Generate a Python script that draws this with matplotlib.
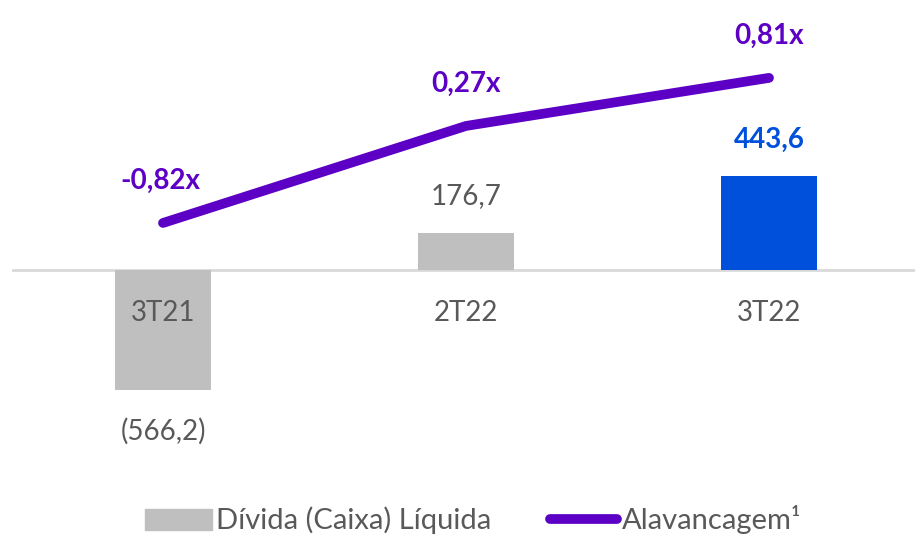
import numpy as np
import matplotlib.pyplot as plt
from matplotlib.patches import Patch
from matplotlib.lines import Line2D

plt.rcParams['font.family'] = ['Lato', 'DejaVu Sans']

periods = ["3T21", "2T22", "3T22"]
divida = [-566.2, 176.7, 443.6]
divida_lbl = ["(566,2)", "176,7", "443,6"]
alav = [-0.82, 0.27, 0.81]
alav_lbl = ["-0,82x", "0,27x", "0,81x"]

GRAY = "#BFBFBF"; BLUE = "#0050DC"; PURPLE = "#5C00C6"; TXT = "#595959"

fig = plt.figure(figsize=(9.15, 5.35), dpi=100)
ax = fig.add_axes([11.5/915, 55/535, 909/915, 480/535])
x = np.arange(len(periods))
cols = [GRAY, GRAY, BLUE]
ax.bar(x, divida, width=0.314, color=cols, zorder=2)
ax.axhline(0, color="#D9D9D9", lw=2, zorder=1)
ax.set_xlim(-0.5, 2.5)
ax.set_ylim(-991, 1274)
ax.axis("off")

for i, (v, s) in enumerate(zip(divida, divida_lbl)):
    if v < 0:
        ax.annotate(s, (i, v), xytext=(0, -30), textcoords="offset points",
                    ha="center", va="center", fontsize=20, color=TXT)
    else:
        bold = i == 2
        ax.annotate(s, (i, v), xytext=(0, 26), textcoords="offset points",
                    ha="center", va="center", fontsize=20,
                    color=BLUE if bold else TXT, fontweight="bold" if bold else "normal")
    ax.annotate(periods[i], (i, 0), xytext=(0, -31), textcoords="offset points",
                ha="center", va="center", fontsize=20, color=TXT)

ax2 = ax.twinx()
ax2.plot(x, alav, color=PURPLE, lw=7, solid_capstyle="round", zorder=3)
ax2.set_ylim(-3.708, 1.685)
ax2.axis("off")
for i, (v, s) in enumerate(zip(alav, alav_lbl)):
    ax2.annotate(s, (i, v), xytext=(-2 if i == 0 else 0, 30), textcoords="offset points",
                 ha="center", va="center", fontsize=20, color=PURPLE, fontweight="bold")

handles = [Patch(color=GRAY), Line2D([0], [0], color=PURPLE, lw=7, solid_capstyle="round")]
fig.legend(handles, ["Dívida (Caixa) Líquida", "Alavancagem¹"], loc="center",
           bbox_to_anchor=(473/915, 1 - 520/535), ncol=2, frameon=False,
           fontsize=21, labelcolor=TXT, handlelength=2.3, handletextpad=0.15,
           columnspacing=2.0)

fig.savefig("out.png", dpi=100)
